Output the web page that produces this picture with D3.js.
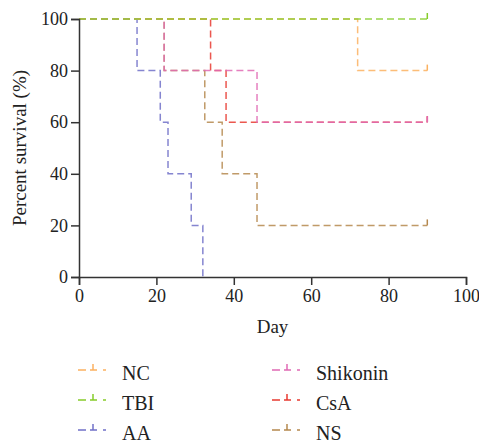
<!DOCTYPE html>
<html>
<head>
<meta charset="utf-8">
<script src="https://cdn.jsdelivr.net/npm/d3@7"></script>
<style>
  body { margin: 0; background: #fff; }
  svg text { font-family: "Liberation Serif", "DejaVu Serif", serif; fill: #222; }
</style>
</head>
<body>
<div id="chart"></div>
<script>
// Survival data (day, percent survival)
const ncDays = [0, 72, 90];
const ncSurv = [100, 80, 80];
const tbiDays = [0, 90];
const tbiSurv = [100, 100];
const aaDays = [0, 15, 21, 23, 29, 32];
const aaSurv = [100, 80, 60, 40, 20, 0];
const shikDays = [0, 22, 46, 90];
const shikSurv = [100, 80, 60, 60];
const csaDays = [0, 34, 38, 90];
const csaSurv = [100, 80, 60, 60];
const nsDays = [0, 22, 32.5, 37, 46, 90];
const nsSurv = [100, 80, 60, 40, 20, 20];

const groupNames = ["NC", "TBI", "AA", "Shikonin", "CsA", "NS"];
const groupColors = ["#fbb160", "#86cc2a", "#7070c8", "#e06ab4", "#e83a30", "#b5884e"];
const xTicks = [0, 20, 40, 60, 80, 100];
const yTicks = [0, 20, 40, 60, 80, 100];

const series = [
  { name: "NC", days: ncDays, surv: ncSurv },
  { name: "TBI", days: tbiDays, surv: tbiSurv },
  { name: "AA", days: aaDays, surv: aaSurv },
  { name: "Shikonin", days: shikDays, surv: shikSurv },
  { name: "CsA", days: csaDays, surv: csaSurv },
  { name: "NS", days: nsDays, surv: nsSurv }
];
const color = d3.scaleOrdinal().domain(groupNames).range(groupColors);

const width = 479, height = 444;
const margin = { top: 19, right: 13, bottom: 167, left: 79 };

const x = d3.scaleLinear().domain([0, 100]).range([margin.left, width - margin.right]);
const y = d3.scaleLinear().domain([0, 100]).range([height - margin.bottom, margin.top]);

const svg = d3.select("#chart").append("svg")
  .attr("width", width)
  .attr("height", height);

// Step curves
const line = d3.line()
  .x(d => x(d[0]))
  .y(d => y(d[1]))
  .curve(d3.curveStepAfter);

const drawOrder = ["NS", "CsA", "Shikonin", "AA", "NC", "TBI"];
const curves = svg.append("g").attr("class", "curves");
drawOrder.forEach(name => {
  const s = series.find(d => d.name === name);
  const pts = s.days.map((d, i) => [d, s.surv[i]]);
  curves.append("path")
    .attr("d", line(pts))
    .attr("fill", "none")
    .attr("stroke", color(name))
    .attr("stroke-width", 1.5)
    .attr("stroke-opacity", 0.85)
    .attr("stroke-dasharray", "7,4");
  // censor tick at end of follow-up
  const last = pts[pts.length - 1];
  if (last[1] > 0) {
    curves.append("line")
      .attr("x1", x(last[0])).attr("x2", x(last[0]))
      .attr("y1", y(last[1])).attr("y2", y(last[1]) - 6)
      .attr("stroke", color(name))
      .attr("stroke-width", 1.5);
  }
});

// Axes
const xAxis = svg.append("g")
  .attr("transform", `translate(0,${y(0)})`)
  .call(d3.axisBottom(x).tickValues(xTicks).tickSize(8).tickPadding(4));
const yAxis = svg.append("g")
  .attr("transform", `translate(${x(0)},0)`)
  .call(d3.axisLeft(y).tickValues(yTicks).tickSize(8).tickPadding(3));

[xAxis, yAxis].forEach(g => {
  g.select(".domain").attr("stroke", "#333").attr("stroke-width", 1.5);
  g.selectAll(".tick line").attr("stroke", "#333").attr("stroke-width", 1.5);
  g.selectAll(".tick text")
    .style("font-family", "Liberation Serif, serif")
    .style("font-size", "18px")
    .attr("fill", "#222");
});

// Axis titles
svg.append("text")
  .attr("x", x(50))
  .attr("y", 333)
  .attr("text-anchor", "middle")
  .style("font-size", "19px")
  .text("Day");

svg.append("text")
  .attr("transform", `translate(26,${y(50)}) rotate(-90)`)
  .attr("text-anchor", "middle")
  .style("font-size", "19px")
  .text("Percent survival (%)");

// Legend
const legendCols = [78, 272];
const legendRows = [370, 400, 430];
const legend = svg.append("g").attr("class", "legend");
groupNames.forEach((name, i) => {
  const lx = legendCols[Math.floor(i / 3)];
  const ly = legendRows[i % 3];
  const g = legend.append("g").attr("transform", `translate(${lx},${ly})`);
  g.append("line")
    .attr("x1", 0).attr("x2", 30)
    .attr("y1", 0).attr("y2", 0)
    .attr("stroke", color(name))
    .attr("stroke-width", 1.5)
    .attr("stroke-dasharray", "8,4,7,6,3");
  g.append("line")
    .attr("x1", 15).attr("x2", 15)
    .attr("y1", 0).attr("y2", -6)
    .attr("stroke", color(name))
    .attr("stroke-width", 1.5);
  g.append("text")
    .attr("x", 44)
    .attr("y", 10)
    .style("font-size", "20px")
    .text(name);
});
</script>
</body>
</html>
